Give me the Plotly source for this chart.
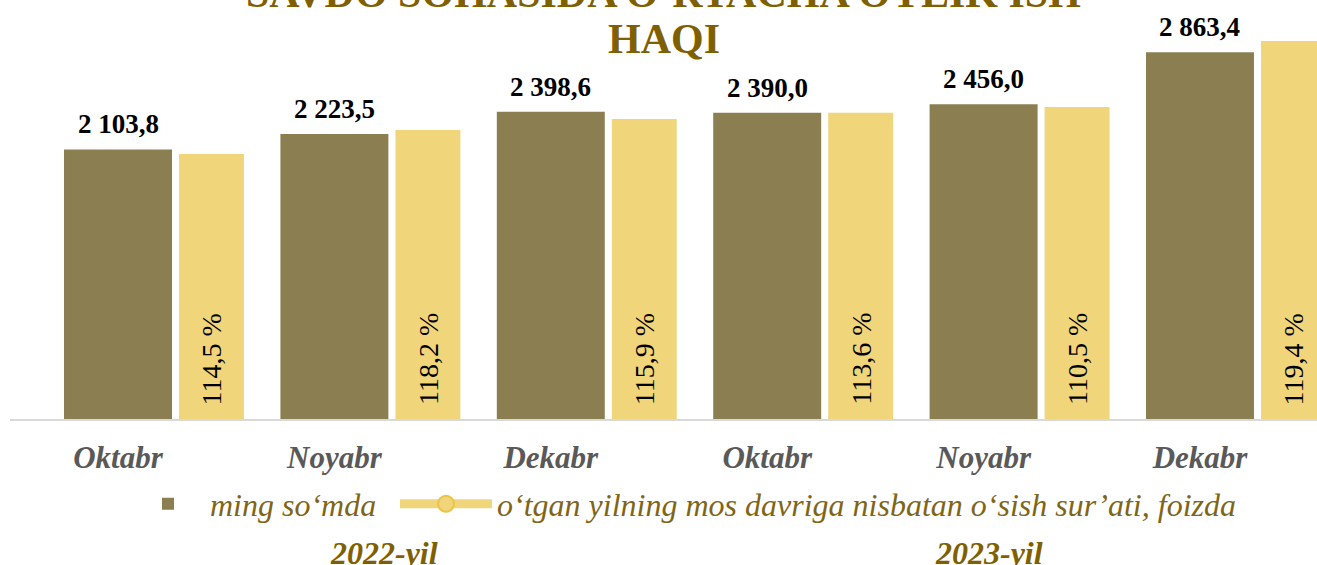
import plotly.graph_objects as go

# ---- data ----
months = ["Oktabr", "Noyabr", "Dekabr", "Oktabr", "Noyabr", "Dekabr"]
years = ["2022-yil", "2023-yil"]
wage = [2103.8, 2223.5, 2398.6, 2390.0, 2456.0, 2863.4]          # ming so'mda
growth = [114.5, 118.2, 115.9, 113.6, 110.5, 119.4]               # foizda
growth_bar_level = [2068, 2256, 2342, 2391, 2435, 2950]           # drawn height of yellow bars
title_lines = ["SAVDO SOHASIDA O‘RTACHA OYLIK ISH", "HAQI"]

OLIVE = "#8B7F52"
YELLOW = "#F0D57A"
GOLD = "#7F6000"
LEG = "#7F6515"
SERIF = "Liberation Serif, serif"

xpos = list(range(len(months)))
YEL_OFF = 0.282
YEL_W = 0.300

fig = go.Figure()
fig.add_trace(go.Bar(
    x=xpos, y=wage, width=0.499, marker=dict(color=OLIVE, line=dict(width=0)),
    name="ming so‘mda", legend="legend", hoverinfo="skip",
))
fig.add_trace(go.Bar(
    x=xpos, y=growth_bar_level, width=YEL_W, offset=YEL_OFF,
    marker=dict(color=YELLOW, line=dict(width=0)),
    showlegend=False, hoverinfo="skip",
))
# legend proxy for the growth series (line + marker symbol)
fig.add_trace(go.Scatter(
    x=[None], y=[None], mode="lines+markers",
    line=dict(color=YELLOW, width=9),
    marker=dict(symbol="circle", size=16, color="#F0D57A", line=dict(color="#EBC445", width=2)),
    name="o‘tgan yilning mos davriga nisbatan o‘sish sur’ati, foizda",
    legend="legend2", hoverinfo="skip",
))

annotations = []
for i, v in enumerate(wage):
    annotations.append(dict(
        x=i, y=v, xref="x", yref="y", text=f"{v:,.1f}".replace(",", " ").replace(".", ","),
        showarrow=False, yanchor="bottom", yshift=8,
        font=dict(family=SERIF, size=27, color="black", weight="bold"),
    ))
for i, g in enumerate(growth):
    annotations.append(dict(
        x=i + YEL_OFF + YEL_W / 2, y=0, xref="x", yref="y",
        text=f"{g:.1f}".replace(".", ",") + " %",
        showarrow=False, textangle=-90, yanchor="bottom", xanchor="center", yshift=12,
        font=dict(family=SERIF, size=28, color="black"),
    ))
# title (two lines, top line partly cut off by the page edge)
for yp, t in zip([1.0060, 0.8897], title_lines):
    annotations.append(dict(
        x=0.5, y=yp, xref="paper", yref="paper", text=t,
        showarrow=False, xanchor="center", yanchor="bottom",
        font=dict(family=SERIF, size=42, color=GOLD, weight="bold"),
    ))
for xp, t in zip([0.2858, 0.7487], years):
    annotations.append(dict(
        x=xp, y=-0.337, xref="paper", yref="paper", text=t, showarrow=False,
        xanchor="center", yanchor="middle",
        font=dict(family=SERIF, size=32, color=GOLD, weight="bold", style="italic"),
    ))

UNIT_PER_PX = 7.805
plot_top = 20
plot_h = 419 - plot_top

fig.update_layout(
    width=1317, height=565,
    margin=dict(l=10, r=0, t=plot_top, b=565 - 419),
    paper_bgcolor="white", plot_bgcolor="white",
    barmode="overlay",
    showlegend=True,
    legend=dict(
        orientation="h", x=(126 - 10) / 1307, y=-0.213, xanchor="left", yanchor="middle",
        font=dict(family=SERIF, size=32, color=LEG, style="italic"),
        itemwidth=74, bgcolor="rgba(0,0,0,0)",
    ),
    legend2=dict(
        orientation="h", x=(395 - 10) / 1307, y=-0.213, xanchor="left", yanchor="middle",
        font=dict(family=SERIF, size=32, color=LEG, style="italic"),
        itemwidth=92, bgcolor="rgba(0,0,0,0)",
    ),
    annotations=annotations,
    xaxis=dict(
        range=[-0.4991, 5.5407], tickvals=xpos, ticktext=months,
        showgrid=False, zeroline=False, showline=True, linecolor="#D9D9D9", linewidth=2,
        ticks="outside", ticklen=10, tickcolor="rgba(0,0,0,0)",
        tickfont=dict(family=SERIF, size=31, color="#595959", weight="bold", style="italic"),
        fixedrange=True,
    ),
    yaxis=dict(
        range=[0, plot_h * UNIT_PER_PX], visible=False, showgrid=False, zeroline=False,
        fixedrange=True,
    ),
)

fig.write_html("out.html", config={"displayModeBar": False},
               post_script="document.body.style.margin='0';")
